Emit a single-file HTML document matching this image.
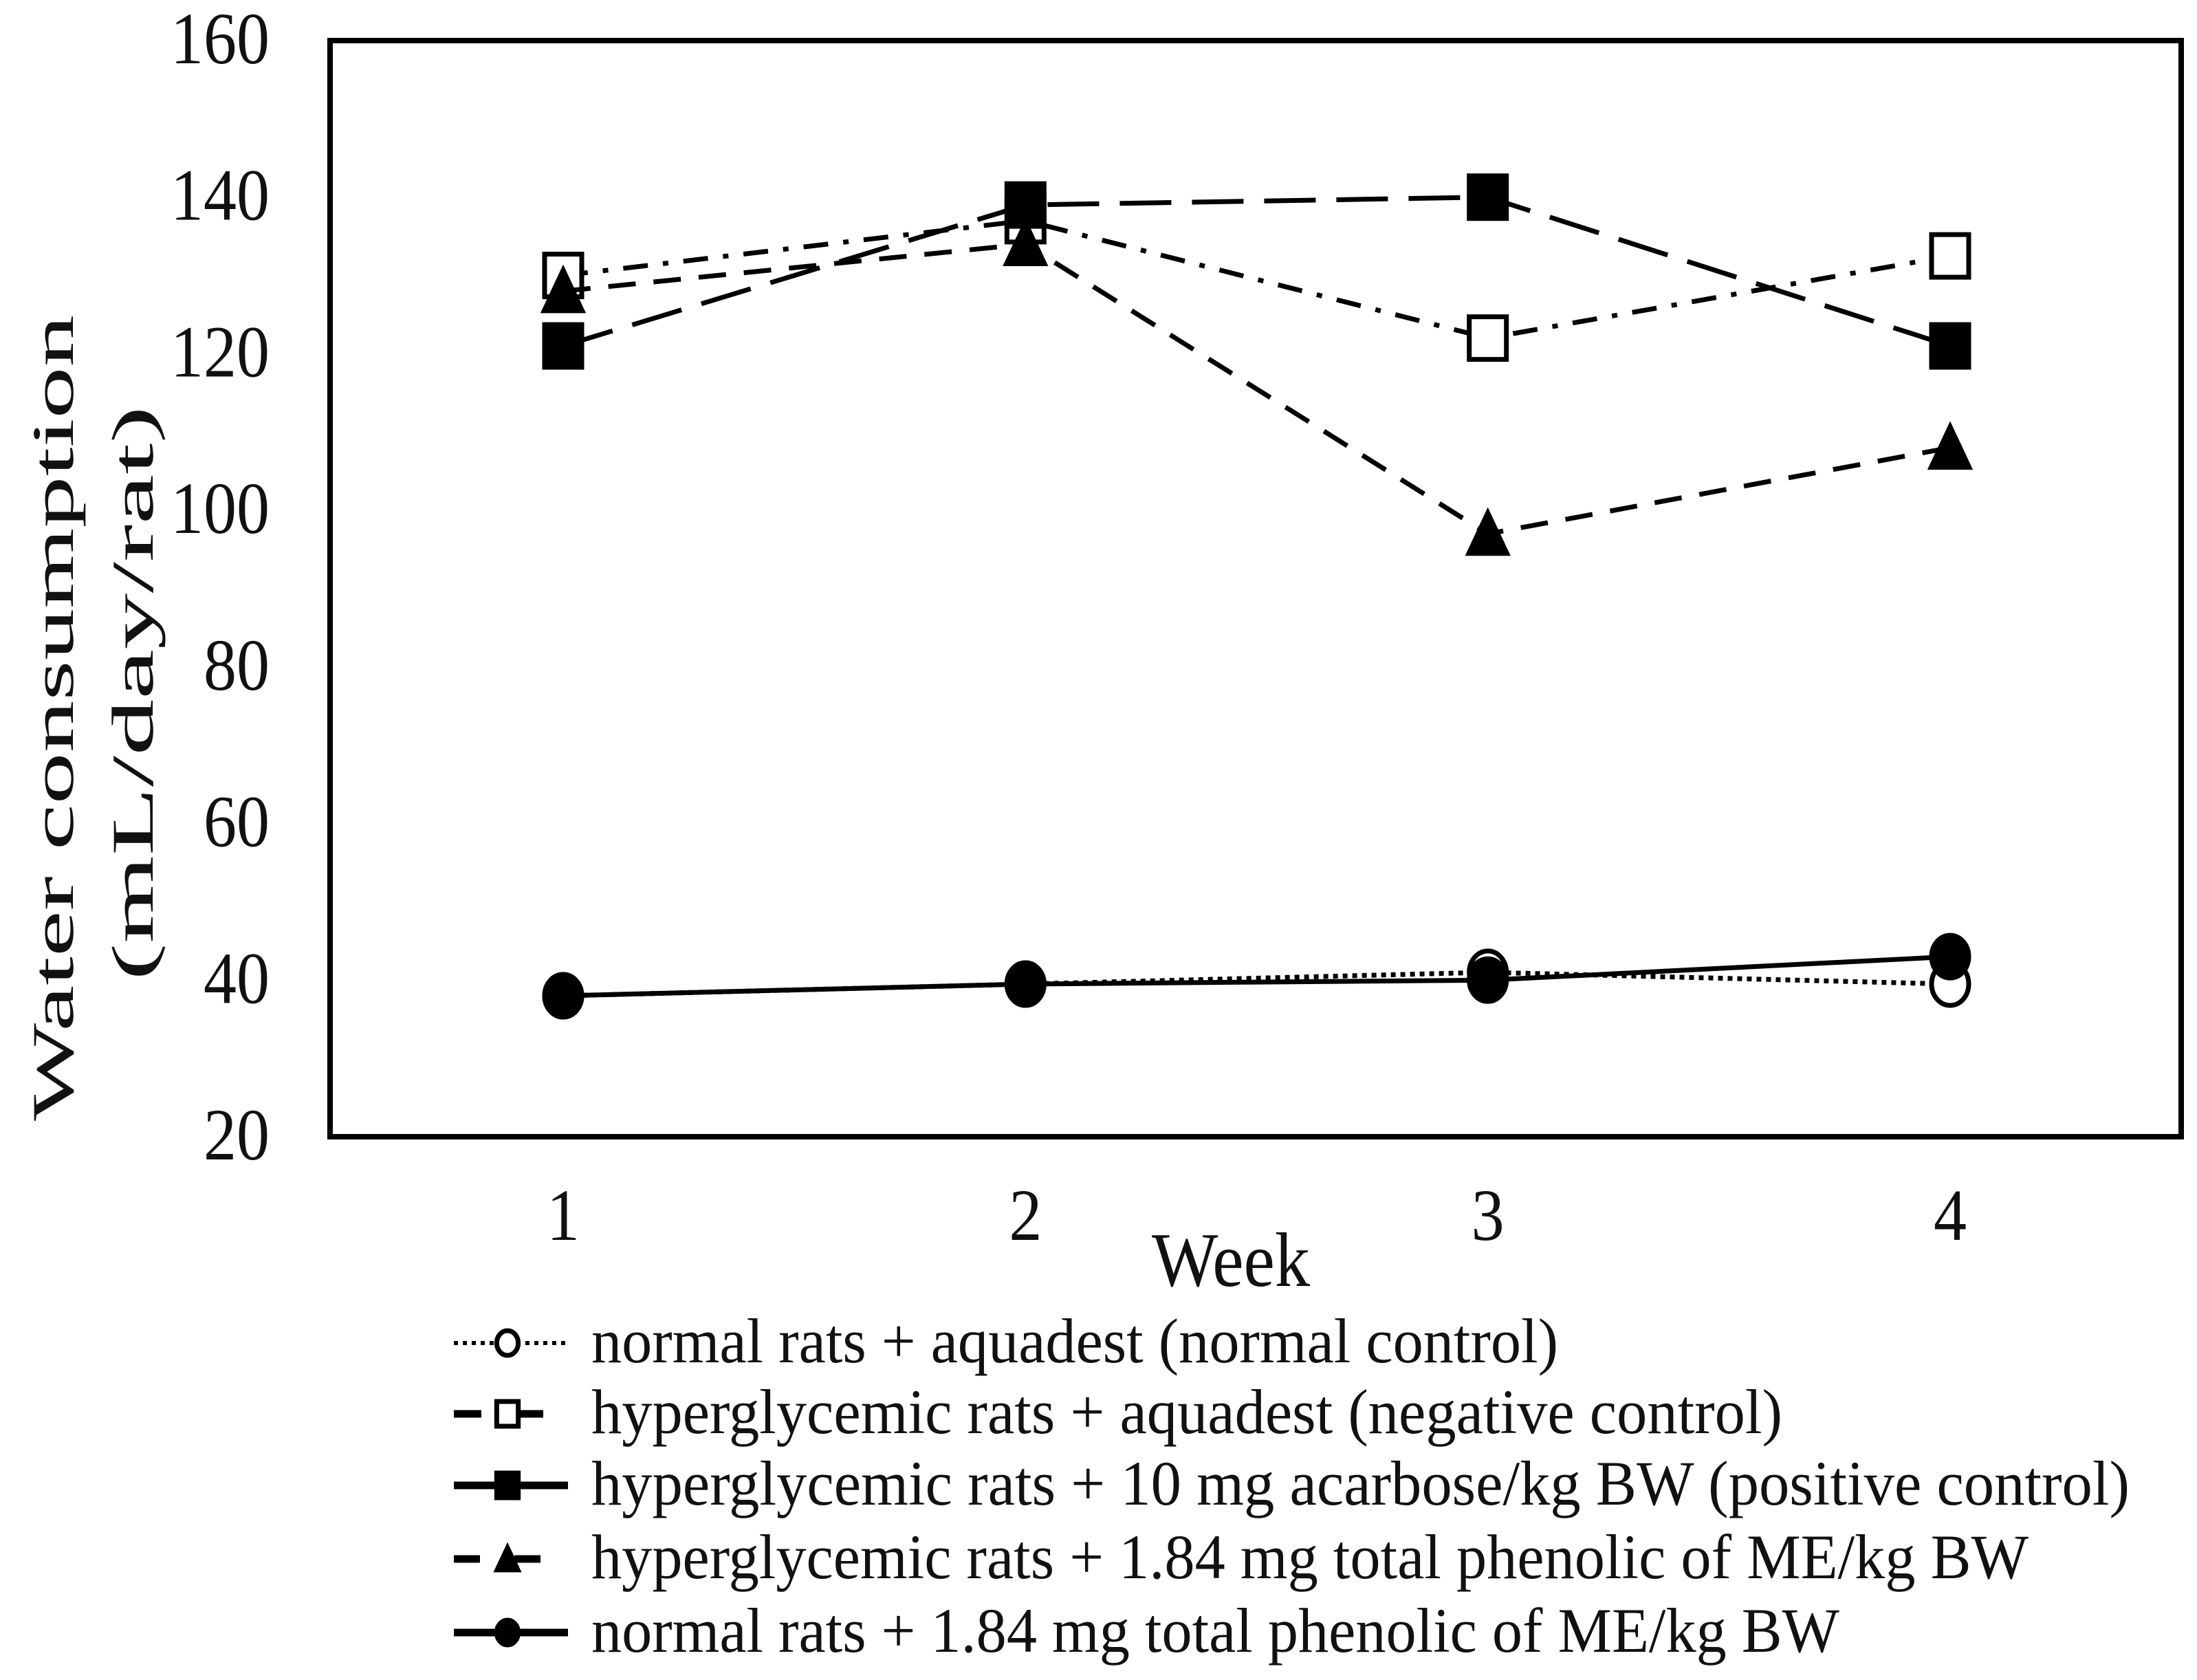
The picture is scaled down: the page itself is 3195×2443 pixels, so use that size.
<!DOCTYPE html>
<html><head><meta charset="utf-8"><style>
html,body{margin:0;padding:0;background:#fff;}
svg{display:block;font-family:"Liberation Serif",serif;}
</style></head><body>
<svg id="chart" width="3195" height="2443" viewBox="0 0 3195 2443" xmlns="http://www.w3.org/2000/svg">
<rect x="0" y="0" width="3195" height="2443" fill="#fff"/>
<g id="plot"></g>
</svg>
<script>
const weeks = [1, 2, 3, 4];
const yTicks = [20, 40, 60, 80, 100, 120, 140, 160];
const normalControl = [38, 39.5, 41, 39.5];
const negativeControl = [130, 137, 122, 132.5];
const positiveControl = [121, 139, 140, 121];
const phenolicHyper = [128, 134, 97, 108];
const phenolicNormal = [38, 39.5, 40, 43];
const legendLabels = [
 "normal rats + aquadest (normal control)",
 "hyperglycemic rats + aquadest (negative control)",
 "hyperglycemic rats + 10 mg acarbose/kg BW (positive control)",
 "hyperglycemic rats + 1.84 mg total phenolic of ME/kg BW",
 "normal rats + 1.84 mg total phenolic of ME/kg BW"
];

const NS = "http://www.w3.org/2000/svg";
const g = document.getElementById('plot');
const L = 480, R = 3172, T = 59, B = 1653;
const xPos = [819, 1490, 2163, 2836];
function xs(w){ return xPos[0] + (w - weeks[0]) * (xPos[3] - xPos[0]) / (weeks[weeks.length-1] - weeks[0]); }
function ys(v){ return B - (v - 20) / 140 * (B - T); }
function el(tag, attrs, parent){ const e = document.createElementNS(NS, tag); for (const k in attrs) e.setAttribute(k, attrs[k]); (parent || g).appendChild(e); return e; }
const SY = 1.12;
function txt(s, x, y, size, anchor, len){
  const t = el('text', {x: x, y: y / SY, 'font-size': size, 'text-anchor': anchor, transform: 'scale(1,' + SY + ')', fill: '#111'});
  if (len) { t.setAttribute('textLength', len); t.setAttribute('lengthAdjust', 'spacingAndGlyphs'); }
  t.textContent = s; return t;
}

const frame = el('rect', {x: L, y: T, width: R - L, height: B - T, fill: 'none', stroke: '#000', 'stroke-width': 8});



yTicks.forEach(v => {
  const t = txt(String(v), 392, ys(v) + 33, 96, 'end');
  
  
});
weeks.forEach(w => {
  const t = txt(String(w), xs(w), 1803, 96, 'middle');
  
  
});
const xt = txt('Week', 1790, 1870, 100, 'middle', 230);


const yt1 = el('text', {x: 0, y: 0, 'font-size': 86, 'text-anchor': 'middle', transform: 'translate(106,1044) rotate(-90)', textLength: 1172, lengthAdjust: 'spacingAndGlyphs', fill: '#111'});
yt1.textContent = 'Water consumption';


const yt2 = el('text', {x: 0, y: 0, 'font-size': 86, 'text-anchor': 'middle', transform: 'translate(222,1008) rotate(-90)', textLength: 836, lengthAdjust: 'spacingAndGlyphs', fill: '#111'});
yt2.textContent = '(mL/day/rat)';



const series = [
 {name: 'normal-control', data: normalControl, dash: '7 7', marker: 'circle', fill: '#fff'},
 {name: 'negative-control', data: negativeControl, dash: '36 22 8 22', marker: 'square', fill: '#fff'},
 {name: 'positive-control', data: positiveControl, dash: '75 30', marker: 'square', fill: '#000'},
 {name: 'phenolic-hyperglycemic', data: phenolicHyper, dash: '40 26', marker: 'triangle', fill: '#000'},
 {name: 'phenolic-normal', data: phenolicNormal, dash: 'none', marker: 'circle', fill: '#000'}
];
function marker(type, fill, cx, cy, parent, s){
  s = s || 1;
  if (type === 'circle') return el('ellipse', {cx: cx, cy: cy, rx: 27*s, ry: 31*s, fill: fill, stroke: '#000', 'stroke-width': 7}, parent);
  if (type === 'square') return el('rect', {x: cx - 27*s, y: cy - 31*s, width: 54*s, height: 62*s, fill: fill, stroke: '#000', 'stroke-width': 7}, parent);
  return el('polygon', {points: (cx) + ',' + (cy - 34*s) + ' ' + (cx + 30*s) + ',' + (cy + 30*s) + ' ' + (cx - 30*s) + ',' + (cy + 30*s), fill: fill, stroke: '#000', 'stroke-width': 4}, parent);
}
series.forEach(s => {
  const grp = el('g', {});
  
  
  const pts = s.data.map((v, i) => xs(weeks[i]) + ',' + ys(v)).join(' ');
  const pl = el('polyline', {points: pts, fill: 'none', stroke: '#000', 'stroke-width': 7, 'stroke-dasharray': s.dash}, grp);
  
  
  s.data.forEach((v, i) => {
    const m = marker(s.marker, s.fill, xs(weeks[i]), ys(v), grp);
    
    
  });
});

const rowsY = [1953, 2056, 2160, 2267, 2374];
const textLens = [1406, 1732, 2237, 2090, 1815];
const legendDash = ['6 7', '40 50', 'none', '38 50', 'none'];
const legendW = [6, 11, 11, 11, 11];
series.forEach((s, i) => {
  const grp = el('g', {});
  
  
  const y = rowsY[i];
  const ln = el('line', {x1: 660, y1: y, x2: 826, y2: y, stroke: '#000', 'stroke-width': legendW[i], 'stroke-dasharray': legendDash[i]}, grp);
  
  
  const m = marker(s.marker, s.fill, 738, y, grp, 0.58);
  
  
  const t = txt(legendLabels[i], 860, y + 28, 82, 'start', textLens[i]);
  grp.appendChild(t);
  
  
});
</script>
</body></html>
